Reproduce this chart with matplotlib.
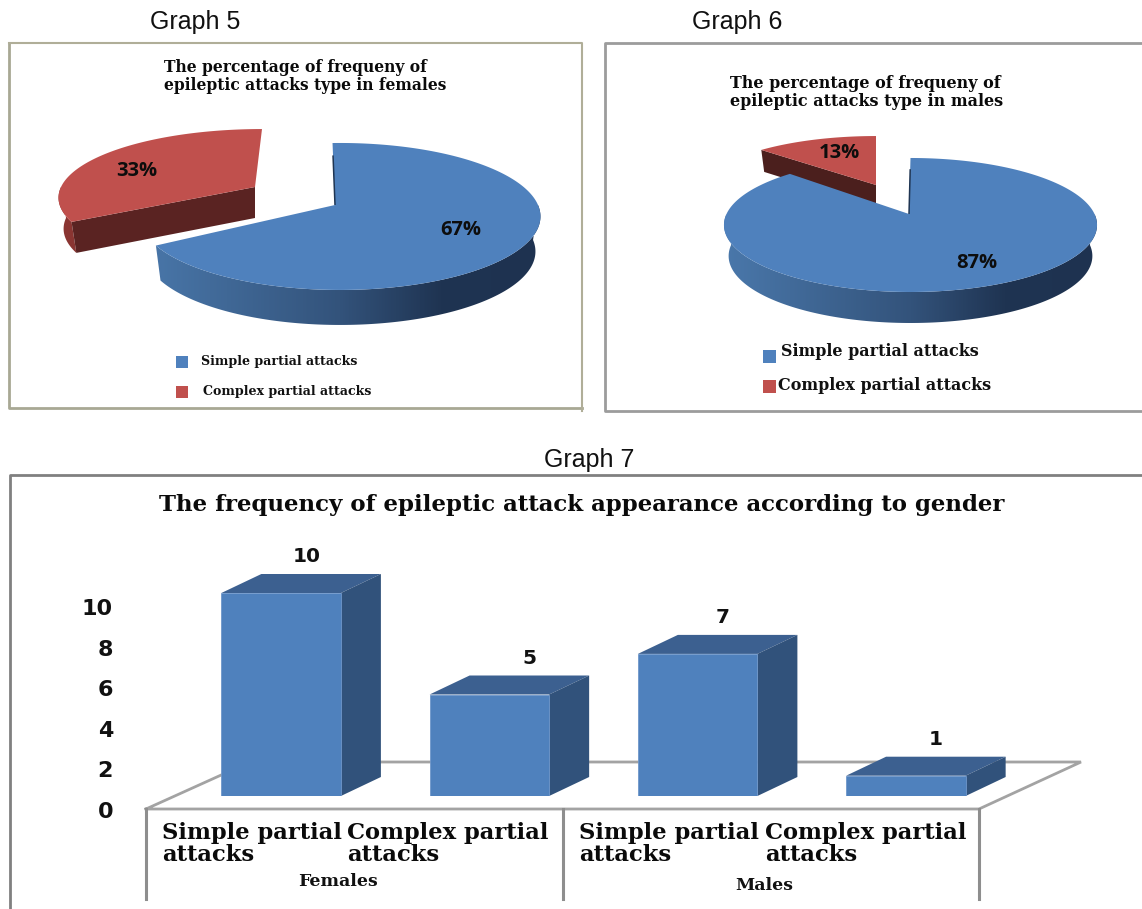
import numpy as np
import matplotlib
matplotlib.use("Agg")
import matplotlib.pyplot as plt
from matplotlib.colors import LinearSegmentedColormap
from matplotlib.patches import Polygon, Rectangle
from matplotlib.transforms import ScaledTranslation

# Survey figures
pie_series = ["Simple partial attacks", "Complex partial attacks"]
female_percent = [67, 33]
male_percent = [87, 13]
bar_groups = ["Females", "Males"]
bar_categories = ["Simple partial\nattacks", "Complex partial\nattacks",
                  "Simple partial\nattacks", "Complex partial\nattacks"]
bar_counts = [10, 5, 7, 1]
y_ticks = [0, 2, 4, 6, 8, 10]

W, H = 1142, 909
BLUE, RED = "#4f81bd", "#c0504d"
SERIF = "DejaVu Serif"
wall_cmap = LinearSegmentedColormap.from_list(
    "wall", [(0, "#4a78ab"), (0.5, "#33537b"), (0.75, "#1f3452"), (1, "#1e3250")])

fig = plt.figure(figsize=(W / 100, H / 100), dpi=100, facecolor="white")
page = fig.add_axes([0, 0, 1, 1], zorder=0)
page.set_xlim(0, W)
page.set_ylim(H, 0)
page.set_autoscale_on(False)
page.axis("off")

RIM_SHRINK = 0.975  # lower rim recedes slightly in perspective


def project(theta_deg, cx, cy, geo):
    """Perspective view of a unit-circle point on a tilted pie."""
    t = np.radians(theta_deg)
    x, y = np.cos(t), np.sin(t)
    d = 1 + geo["p"] * y
    return cx + geo["m"] * x / d, cy - geo["k"] * y / d


def slice_top(a0, a1, apex, rim_x, cy, geo, color, z):
    th = np.linspace(a0, a1, 240)
    xs, ys = project(th, rim_x, cy, geo)
    pts = np.column_stack([np.r_[apex, xs], np.r_[cy, ys]])
    page.add_patch(Polygon(pts, closed=True, fc=color, ec="none", zorder=z))


def wall_outline(a0, a1, rim_x, cy, geo, depth):
    th = np.linspace(a0, a1, 200)
    xs, ys = project(th, rim_x, cy, geo)
    xb = rim_x + (xs - rim_x) * RIM_SHRINK
    return np.column_stack([np.r_[xs, xb[::-1]], np.r_[ys, ys[::-1] + depth]])


def pie3d(percent, apex_xy, rim_x, start, geo, depth,
          red_apex_xy, red_rim_x, red_geo, red_depth, red_dark, red_side):
    sweep = 360 * percent[0] / 100
    # exploded slice: sits behind the main one
    rax, ray = red_apex_xy
    red_end = 90 - sweep + 360
    ex, ey = project(red_end, red_rim_x, ray, red_geo)
    if red_end > 180:
        page.add_patch(Polygon(wall_outline(180, red_end, red_rim_x, ray, red_geo, red_depth),
                               closed=True, fc=red_side, ec="none", zorder=1))
    ex_low = red_rim_x + (ex - red_rim_x) * RIM_SHRINK
    face = [(rax, ray), (ex, ey), (ex_low, ey + red_depth), (rax, ray + red_depth)]
    page.add_patch(Polygon(face, closed=True, fc=red_dark, ec="none", zorder=1.5))
    slice_top(90, red_end, rax, red_rim_x, ray, red_geo, RED, 1.8)

    # main slice: shaded outer wall, then the top
    ax_, ay = apex_xy
    end = start - sweep
    outline = wall_outline(max(end, -180), 0, rim_x, ay, geo, depth)
    clip = Polygon(outline, closed=True, transform=page.transData)
    left, right = rim_x - geo["m"] * 1.02, rim_x + geo["m"] * 1.02
    wall = page.imshow(np.linspace(0, 1, 400).reshape(1, -1), cmap=wall_cmap, aspect="auto",
                       extent=(left, right, outline[:, 1].max(), outline[:, 1].min()),
                       vmin=0, vmax=1, zorder=2)
    wall.set_clip_path(clip)
    slice_top(start, end, ax_, rim_x, ay, geo, BLUE, 3)
    fx, fy = project(start, rim_x, ay, geo)
    page.plot([ax_, ax_ + (fx - ax_) * 0.8], [ay, ay + (fy - ay) * 0.8], color="#1f3552",
              lw=1.1, zorder=3.5, solid_capstyle="butt")


def legend(entries, mx, msize, fs):
    for (label, tx, ty, my), col in zip(entries, (BLUE, RED)):
        page.add_patch(Rectangle((mx, my - msize / 2), msize, msize, fc=col, ec="none"))
        page.text(tx, ty, label, family=SERIF, weight="bold", fontsize=fs,
                  va="center", ha="left", color="#111111")


PCT = dict(family="Open Sans", weight="bold", fontsize=14.5, ha="center",
           va="center", color="#0d0d0d", zorder=6)

# Panel captions
for label, cx, cy in [("Graph 5", 195, 22), ("Graph 6", 737, 22), ("Graph 7", 589, 460)]:
    page.text(cx, cy, label, family="Liberation Sans", fontsize=18, ha="center",
              va="center", color="#111111")

# Panel frames
page.plot([9, 9, 582], [43, 408, 408], color="#a8a894", lw=2)
page.plot([9, 582, 582], [43, 43, 411], color="#b0ae98", lw=1.5)
page.plot([W, 605, 605, W], [43, 43, 411, 411], color="#9c9c9c", lw=2)
page.plot([10, 10, W], [H, 475, 475], color="#808080", lw=2)

# Graph 5
page.text(164, 67, "The percentage of frequeny of", family=SERIF, weight="bold",
          fontsize=11.2, va="center", ha="left", color="#0a0a0a")
page.text(164, 86, "epileptic attacks type in females", family=SERIF, weight="bold",
          fontsize=11.2, va="center", ha="left", color="#0a0a0a")
geo5 = dict(p=0.156, k=71.7, m=198)
pie3d(female_percent, (335, 205), 340, 92.5, geo5, 35,
      (255, 187), 262, dict(p=0.156, k=67, m=201), 31, "#5a2322", "#8a3532")
page.text(461, 230, f"{female_percent[0]}%", **PCT)
page.text(137, 171, f"{female_percent[1]}%", **PCT)
legend([(pie_series[0], 201, 361, 362), (pie_series[1], 203, 392, 392)], 176, 12, 9.1)

# Graph 6
page.text(730, 83, "The percentage of frequeny of", family=SERIF, weight="bold",
          fontsize=11.5, va="center", ha="left", color="#0a0a0a")
page.text(730, 101, "epileptic attacks type in males", family=SERIF, weight="bold",
          fontsize=11.5, va="center", ha="left", color="#0a0a0a")
geo6 = dict(p=0.164, k=65.2, m=184)
pie3d(male_percent, (909, 214), 910.5, 90, geo6, 31,
      (876, 185), 876, dict(p=0.164, k=57, m=175), 22, "#4b1f1d", "#4b1f1d")
page.text(977, 263, f"{male_percent[0]}%", **PCT)
page.text(839, 153, f"{male_percent[1]}%", **PCT)
legend([(pie_series[0], 781, 352, 356), (pie_series[1], 778, 385, 386)], 763, 13, 11.5)

# Graph 7: floor and multi-level axis
GRID = "#a3a3a3"
page.plot([146, 250, 1081, 979, 146], [809, 762, 762, 809, 809], color=GRID, lw=2,
          solid_joinstyle="miter")
for x in (146, 563, 979):
    page.plot([x, x], [809, 899], color="#8e8e8e", lw=2.2)
page.text(582, 505, "The frequency of epileptic attack appearance according to gender",
          family=SERIF, weight="bold", fontsize=16.5, ha="center", va="center",
          color="#0a0a0a")
for x, label in zip((162, 347, 579, 765), bar_categories):
    page.text(x, 844, label, family=SERIF, weight="bold", fontsize=16.3, ha="left",
              va="center", linespacing=0.95, color="#0a0a0a")
page.text(338, 881, bar_groups[0], family=SERIF, weight="bold", fontsize=12.5, ha="center",
          va="center", color="#111111")
page.text(764, 886, bar_groups[1], family=SERIF, weight="bold", fontsize=12.5, ha="center",
          va="center", color="#111111")

# Graph 7: bars live on their own value-scaled axes
px_left, px_right, px_base, px_per_unit = 177, 1010, 796, 20.3
ymax = 14
bars = fig.add_axes([px_left / W, 1 - px_base / H, (px_right - px_left) / W,
                     ymax * px_per_unit / H], zorder=1)
bars.patch.set_alpha(0)
bars.set_xlim(-0.5, 3.5)
bars.set_ylim(0, ymax)
for s in bars.spines.values():
    s.set_visible(False)
bars.set_xticks([])
bars.set_yticks(y_ticks)
bars.tick_params(axis="y", length=0, pad=46)
for tl in bars.get_yticklabels():
    tl.set_family("DejaVu Sans")
    tl.set_weight("bold")
    tl.set_fontsize(16)
    tl.set_color("#111111")
    tl.set_transform(tl.get_transform() + ScaledTranslation(0, -14 / 100, fig.dpi_scale_trans))

xpos = np.arange(len(bar_counts))
bw = 0.574
dx, dy = 40 / 208.25, 19 / px_per_unit
bars.bar(xpos, bar_counts, width=bw, color=BLUE, edgecolor="#6f97cb", linewidth=0.6, zorder=3)
label_shift_px = [26, 40, 25, 30]
for x, v, shift in zip(xpos, bar_counts, label_shift_px):
    l, r = x - bw / 2, x + bw / 2
    bars.add_patch(Polygon([(l, v), (r, v), (r + dx, v + dy), (l + dx, v + dy)],
                           closed=True, fc="#3c6090", ec="none", zorder=2))
    bars.add_patch(Polygon([(r, 0), (r + dx, dy), (r + dx, v + dy), (r, v)],
                           closed=True, fc="#31527b", ec="none", zorder=2))
    bars.annotate(str(v), (x, v), xytext=(shift * 0.72, 36 * 0.72), textcoords="offset points",
                  family="DejaVu Sans", weight="bold", fontsize=14.5, ha="center",
                  va="center", color="#111111", annotation_clip=False)

fig.savefig("out.png", dpi=100)
